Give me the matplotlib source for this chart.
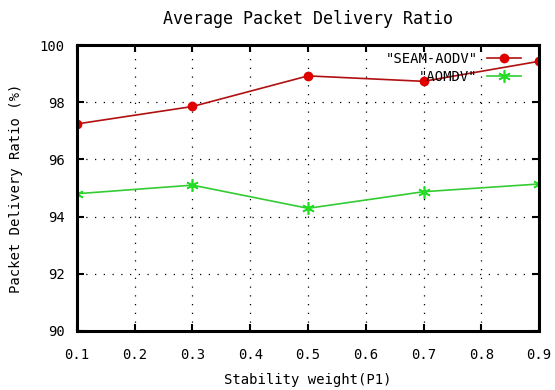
import matplotlib
matplotlib.use("Agg")
import matplotlib.pyplot as plt

# stability weight P1 and delivery ratio (%) per protocol
p1 = [0.1, 0.3, 0.5, 0.7, 0.9]
seam_aodv = [97.24, 97.85, 98.92, 98.73, 99.43]
aomdv = [94.80, 95.10, 94.29, 94.87, 95.14]

x_ticks = [0.1, 0.2, 0.3, 0.4, 0.5, 0.6, 0.7, 0.8, 0.9]
y_ticks = [90, 92, 94, 96, 98, 100]

plt.rcParams['font.family'] = ['DejaVu Sans Mono']
plt.rcParams['font.size'] = 10

fig = plt.figure(figsize=(5.55, 3.9), dpi=100)
ax = fig.add_axes([0.1387, 0.1513, 0.8325, 0.7333])

ax.plot(p1, seam_aodv, color='#b01010', linewidth=1.2, marker='o',
        markersize=6, markerfacecolor='#e00000', markeredgecolor='#e00000',
        label='"SEAM-AODV"')
ax.plot(p1, aomdv, color='#33cc33', linewidth=1.2, marker=(6, 2, 0),
        markersize=9, markeredgecolor='#22dd22', markeredgewidth=1.2,
        label='"AOMDV"')

ax.set_xlim(0.1, 0.9)
ax.set_ylim(90, 100)
ax.set_xticks(x_ticks)
ax.set_xticklabels(['%.1f' % v for v in x_ticks])
ax.set_yticks(y_ticks)
ax.grid(True, color='black', linestyle=(0, (1, 6)), linewidth=0.9)
ax.tick_params(direction='in', length=5, width=1.5, top=True, right=True)
ax.tick_params(axis='x', pad=12)
ax.tick_params(axis='y', pad=9)
for s in ax.spines.values():
    s.set_linewidth(2.2)

ax.set_title('Average Packet Delivery Ratio', pad=15)
ax.set_xlabel('Stability weight(P1)', labelpad=8)
ax.set_ylabel('Packet Delivery Ratio (%)', labelpad=12)

ax.legend(loc='upper right', bbox_to_anchor=(0.962, 0.975), frameon=False,
          markerfirst=False, borderpad=0, handlelength=2.5,
          handletextpad=0.65, labelspacing=0.25, borderaxespad=0)

fig.savefig('out.png', dpi=100)
